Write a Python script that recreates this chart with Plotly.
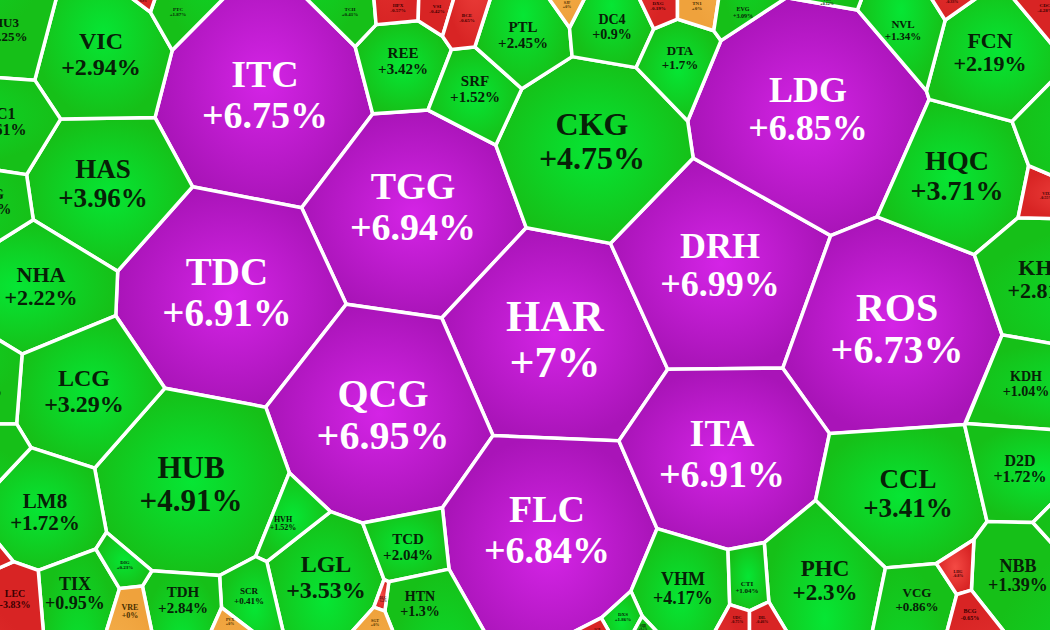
import plotly.graph_objects as go

# ---------------- data ----------------
tickers = ["ITC", "TGG", "TDC", "HAR", "QCG", "FLC", "DRH", "LDG", "ROS", "ITA",
           "CKG", "HUB", "HAS", "VIC", "NHA", "LCG", "LM8", "LGL", "CCL", "PHC",
           "VHM", "HQC", "FCN", "NVL", "KHG", "KDH", "D2D", "NBB", "VCG", "CTI",
           "TCD", "HTN", "HVH", "SCR", "TDH", "TIX", "DIG", "VRE", "LEC", "HU3",
           "CC1", "HAG", "HDG", "AGG", "REE", "SRF", "PTL", "DC4", "DTA", "PTC",
           "TCH", "HPX", "VSI", "BCE", "SJF", "DXG", "TN1", "EVG", "VJC", "HPG",
           "CDC", "VIX", "LHG", "BCG", "UDC", "DIL", "DXS", "SHB", "ACB", "DLG",
           "SGT", "PVX", "TTB", "HID", "PDR", "HSG"]
changes = [6.75, 6.94, 6.91, 7.00, 6.95, 6.84, 6.99, 6.85, 6.73, 6.91,
           4.75, 4.91, 3.96, 2.94, 2.22, 3.29, 1.72, 3.53, 3.41, 2.30,
           4.17, 3.71, 2.19, 1.34, 2.81, 1.04, 1.72, 1.39, 0.86, 1.04,
           2.04, 1.30, 1.52, 0.41, 2.84, 0.95, 0.23, 0.00, -3.83, 1.25,
           1.61, 0.85, 1.90, 1.10, 3.42, 1.52, 2.45, 0.90, 1.70, 1.87,
           0.41, -0.57, -0.42, -0.65, 0.00, -0.19, 0.00, 3.09, 0.12, -0.33,
           -4.28, -0.55, -0.80, -0.65, -0.75, -0.46, 1.86, 0.50, -0.30, -1.20,
           0.00, 0.00, -0.90, -1.50, 1.10, 1.20]

# ---------------- layout of the cells (sites, radii, label sizes) ----------------
site_x = [265, 413, 227, 555, 383, 547, 720, 808, 897, 722,
          592, 191, 103, 101, 41, 84, 45, 326, 908, 825,
          683, 957, 990, 903, 1044, 1026, 1020, 1018, 917, 747,
          408, 420, 283, 249, 183, 75, 125, 130, 15, 6,
          0, -12, -18, -18, 403, 475, 523, 612, 680, 178,
          350, 398, 437, 467, 567, 658, 697, 743, 827, 952,
          1045, 1046, 958, 970, 737, 762, 623, 643, 597, 383,
          375, 230, 143, -5, 1075, 1072]
site_y = [98, 210, 296, 343, 418, 533, 268, 112, 332, 457,
          144, 487, 186, 56, 288, 393, 514, 579, 496, 582,
          590, 178, 54, 31, 281, 385, 470, 577, 601, 588,
          548, 605, 524, 597, 601, 595, 565, 612, 600, 31,
          123, 203, 385, 455, 62, 90, 36, 28, 59, 12,
          12, 8, 9, 18, 5, 6, 6, 13, 2, 0,
          8, 196, 574, 615, 620, 620, 617, 628, 632, 600,
          623, 622, 0, 555, 525, 135]
site_r = [100, 95, 100, 100, 100, 100, 98, 110, 100, 85,
          85, 90, 70, 65, 60, 65, 55, 55, 72, 58,
          48, 65, 55, 42, 60, 45, 45, 48, 40, 22,
          35, 35, 30, 28, 38, 42, 18, 20, 35, 50,
          48, 35, 38, 30, 42, 38, 45, 40, 38, 25,
          22, 20, 18, 22, 18, 20, 20, 26, 15, 18,
          22, 13, 20, 24, 14, 14, 18, 10, 8, 9,
          14, 14, 8, 12, 30, 42]
label_size = [38, 38, 39, 44, 40, 38, 36, 36, 40, 38,
              32, 31, 27, 24, 22, 24, 21, 24, 27, 23,
              18, 28, 22, 11, 22, 14, 16, 18, 13, 7,
              15, 14, 8, 9, 15, 18, 5, 8, 10, 13,
              16, 14, 14, 12, 15, 15, 15, 14, 13, 5,
              5, 5, 5, 5, 4, 5, 5, 6, 4, 4,
              5, 4, 4, 6, 4, 4, 5, 3, 3, 3,
              4, 4, 3, 3, 12, 14]

# ---------------- styles ----------------
STYLE = {
    "ceil": (["#d424e6", "#a914b8"], "#ffffff"),
    "up": (["#06e634", "#16c018"], "#072007"),
    "ref": (["#fbc060", "#efa23c"], "#4a3000"),
    "down": (["#f44a44", "#d82424"], "#3a0000"),
}


def category(c):
    if c >= 6.5:
        return "ceil"
    if c > 0:
        return "up"
    if c == 0:
        return "ref"
    return "down"


def clip(poly, a, b, c):
    out = []
    n = len(poly)
    for k in range(n):
        p = poly[k]
        q = poly[(k + 1) % n]
        fp = a * p[0] + b * p[1] - c
        fq = a * q[0] + b * q[1] - c
        if fp <= 0:
            out.append(p)
        if (fp < 0 < fq) or (fq < 0 < fp):
            t = fp / (fp - fq)
            out.append((p[0] + t * (q[0] - p[0]), p[1] + t * (q[1] - p[1])))
    return out


# power diagram cells
cells = []
N = len(tickers)
for i in range(N):
    poly = [(-300, -300), (1350, -300), (1350, 930), (-300, 930)]
    xi, yi, wi = site_x[i], site_y[i], site_r[i] ** 2
    for j in range(N):
        if j == i or not poly:
            continue
        xj, yj, wj = site_x[j], site_y[j], site_r[j] ** 2
        a = 2 * (xj - xi)
        b = 2 * (yj - yi)
        c = (xj ** 2 + yj ** 2) - (xi ** 2 + yi ** 2) - wj + wi
        poly = clip(poly, a, b, c)
    cells.append(poly)

fig = go.Figure()
for i, poly in enumerate(cells):
    if len(poly) < 3:
        continue
    cols, _ = STYLE[category(changes[i])]
    xs = [p[0] for p in poly] + [poly[0][0]]
    ys = [p[1] for p in poly] + [poly[0][1]]
    fig.add_trace(go.Scatter(
        x=xs, y=ys, mode="lines", fill="toself",
        fillgradient=dict(type="radial", colorscale=[[0, cols[0]], [1, cols[1]]]),
        line=dict(color="#ffffff", width=3.5),
        hoverinfo="skip", showlegend=False))

tcol = [STYLE[category(c)][1] for c in changes]
fig.add_trace(go.Scatter(
    x=site_x, y=[y - 0.53 * s for y, s in zip(site_y, label_size)],
    mode="text", text=tickers, textposition="middle center",
    textfont=dict(family="Liberation Serif", size=label_size, color=tcol, weight="bold"),
    hoverinfo="skip", showlegend=False))
fig.add_trace(go.Scatter(
    x=site_x, y=[y + 0.53 * s for y, s in zip(site_y, label_size)],
    mode="text", text=[f"{c:+g}%" for c in changes], textposition="middle center",
    textfont=dict(family="Liberation Serif", size=label_size, color=tcol, weight="bold"),
    hoverinfo="skip", showlegend=False))

fig.update_layout(
    width=1050, height=630, margin=dict(l=0, r=0, t=0, b=0),
    paper_bgcolor="#ffffff", plot_bgcolor="#ffffff",
    xaxis=dict(range=[0, 1050], visible=False, fixedrange=True),
    yaxis=dict(range=[630, 0], visible=False, fixedrange=True),
    showlegend=False)

fig.write_html("out.html")
